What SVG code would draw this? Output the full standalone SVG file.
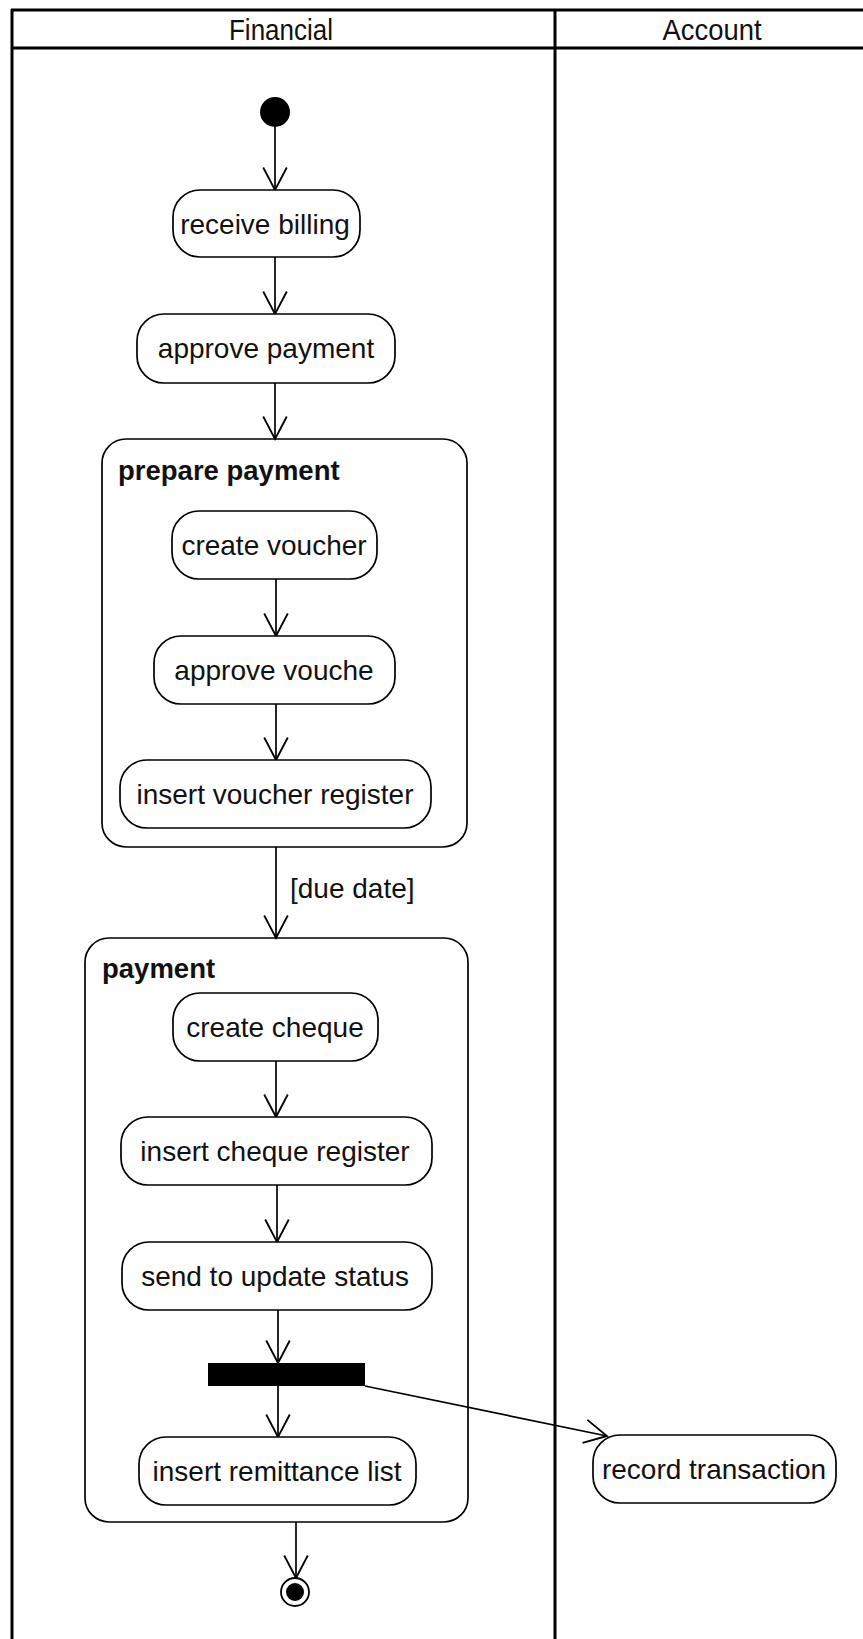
<svg xmlns="http://www.w3.org/2000/svg" width="863" height="1639" viewBox="0 0 863 1639">
  <style>
    .lane { stroke: #000; stroke-width: 3; fill: none; }
    .act { fill: #fff; stroke: #000; stroke-width: 1.7; }
    .region { fill: none; stroke: #000; stroke-width: 1.7; }
    .edge { fill: none; stroke: #000; stroke-width: 1.7; }
    .lbl { font-family: "Liberation Sans", Arial, sans-serif; font-size: 28px; fill: #111; text-anchor: middle; }
    .title { font-family: "Liberation Sans", Arial, sans-serif; font-size: 27.5px; font-weight: bold; fill: #111; }
    .head { font-family: "Liberation Sans", Arial, sans-serif; font-size: 30px; fill: #111; text-anchor: middle; }
  </style>
  <defs>
    <marker id="open" markerUnits="userSpaceOnUse" markerWidth="30" markerHeight="30" viewBox="-24 -14 28 28" refX="0" refY="0" orient="auto">
      <path d="M -21 -11 L 0 0 L -21 11" fill="none" stroke="#000" stroke-width="1.7"/>
    </marker>
  </defs>
  <rect width="863" height="1639" fill="#fff"/>

  <!-- swimlanes -->
  <g id="lanes">
    <line class="lane" x1="11" y1="10" x2="863" y2="10"/>
    <line class="lane" x1="11" y1="48" x2="863" y2="48"/>
    <line class="lane" x1="12" y1="9" x2="12" y2="1639"/>
    <line class="lane" x1="555" y1="9" x2="555" y2="1639"/>
    <text class="head" x="281" y="40" textLength="104" lengthAdjust="spacingAndGlyphs">Financial</text>
    <text class="head" x="712" y="40" textLength="99" lengthAdjust="spacingAndGlyphs">Account</text>
  </g>

  <!-- composite regions -->
  <g id="prepare-payment">
    <rect class="region" x="102" y="439" width="365" height="408" rx="24"/>
    <text class="title" x="118" y="480">prepare payment</text>
  </g>
  <g id="payment">
    <rect class="region" x="85" y="938" width="383" height="584" rx="24"/>
    <text class="title" x="102" y="978">payment</text>
  </g>

  <!-- connectors -->
  <g id="connectors">
    <line class="edge" x1="275" y1="127" x2="275" y2="190" marker-end="url(#open)"/>
    <line class="edge" x1="275" y1="257" x2="275" y2="314" marker-end="url(#open)"/>
    <line class="edge" x1="275" y1="383" x2="275" y2="439" marker-end="url(#open)"/>
    <line class="edge" x1="276" y1="579" x2="276" y2="636" marker-end="url(#open)"/>
    <line class="edge" x1="276" y1="704" x2="276" y2="760" marker-end="url(#open)"/>
    <line class="edge" x1="276" y1="847" x2="276" y2="938" marker-end="url(#open)"/>
    <line class="edge" x1="276" y1="1061" x2="276" y2="1117" marker-end="url(#open)"/>
    <line class="edge" x1="277" y1="1185" x2="277" y2="1242" marker-end="url(#open)"/>
    <line class="edge" x1="278" y1="1310" x2="278" y2="1363" marker-end="url(#open)"/>
    <line class="edge" x1="278" y1="1386" x2="278" y2="1437" marker-end="url(#open)"/>
    <line class="edge" x1="365" y1="1386" x2="607" y2="1436" marker-end="url(#open)"/>
    <line class="edge" x1="296" y1="1522" x2="296" y2="1578" marker-end="url(#open)"/>
    <text class="lbl" x="290" y="898" style="text-anchor:start">[due date]</text>
  </g>

  <!-- nodes -->
  <g id="start">
    <circle cx="275" cy="112" r="15" fill="#000"/>
  </g>
  <g id="receive-billing">
    <rect class="act" x="173" y="190" width="187" height="67" rx="27"/>
    <text class="lbl" x="265" y="234">receive billing</text>
  </g>
  <g id="approve-payment">
    <rect class="act" x="137" y="314" width="258" height="69" rx="27"/>
    <text class="lbl" x="266" y="358">approve payment</text>
  </g>
  <g id="create-voucher">
    <rect class="act" x="172" y="511" width="205" height="68" rx="27"/>
    <text class="lbl" x="274" y="555">create voucher</text>
  </g>
  <g id="approve-vouche">
    <rect class="act" x="154" y="636" width="241" height="68" rx="27"/>
    <text class="lbl" x="274" y="680">approve vouche</text>
  </g>
  <g id="insert-voucher-register">
    <rect class="act" x="120" y="760" width="311" height="68" rx="27"/>
    <text class="lbl" x="275" y="804">insert voucher register</text>
  </g>
  <g id="create-cheque">
    <rect class="act" x="173" y="993" width="205" height="68" rx="27"/>
    <text class="lbl" x="275" y="1037">create cheque</text>
  </g>
  <g id="insert-cheque-register">
    <rect class="act" x="121" y="1117" width="311" height="68" rx="27"/>
    <text class="lbl" x="275" y="1161">insert cheque register</text>
  </g>
  <g id="send-to-update-status">
    <rect class="act" x="122" y="1242" width="310" height="68" rx="27"/>
    <text class="lbl" x="275" y="1286">send to update status</text>
  </g>
  <g id="fork">
    <rect x="208" y="1363" width="157" height="23" fill="#000"/>
  </g>
  <g id="insert-remittance-list">
    <rect class="act" x="139" y="1437" width="277" height="68" rx="27"/>
    <text class="lbl" x="277" y="1481">insert remittance list</text>
  </g>
  <g id="record-transaction">
    <rect class="act" x="593" y="1435" width="243" height="68" rx="27"/>
    <text class="lbl" x="714" y="1479">record transaction</text>
  </g>
  <g id="end">
    <circle cx="295" cy="1592" r="14" fill="#fff" stroke="#000" stroke-width="1.8"/>
    <circle cx="295" cy="1592" r="9" fill="#000"/>
  </g>
</svg>
